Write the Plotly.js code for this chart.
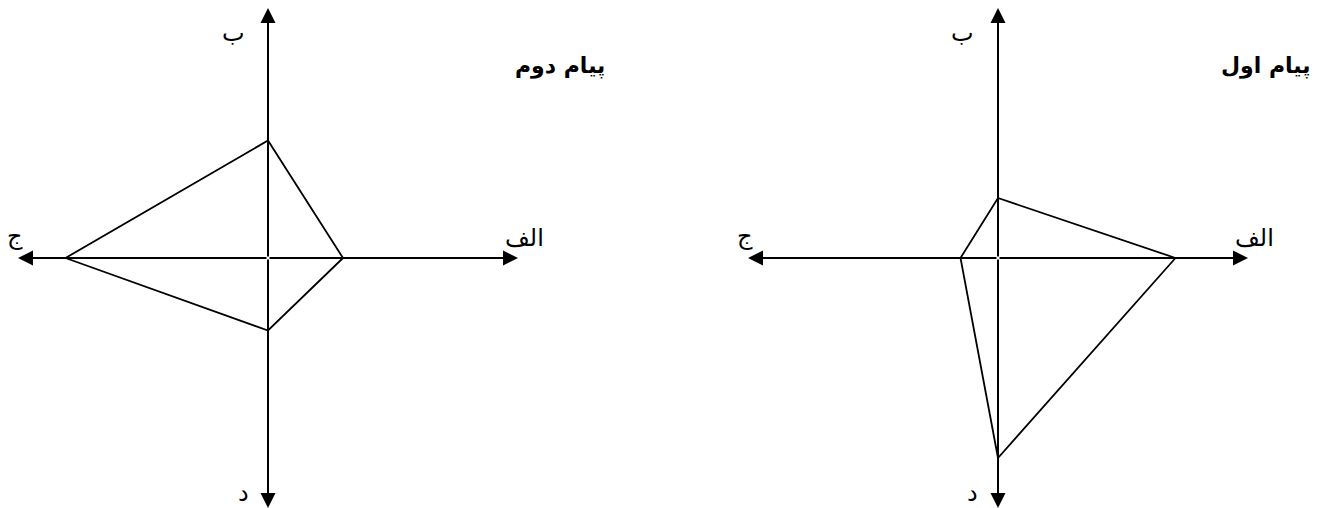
<!DOCTYPE html>
<html>
<head>
<meta charset="utf-8">
<script src="https://cdn.plot.ly/plotly-3.0.1.min.js"></script>
<style>
  html, body { margin: 0; padding: 0; background: #fff; }
  #chart { width: 1329px; height: 508px; }
</style>
</head>
<body>
<div id="chart"></div>
<script>
// axis names, in the order: right, up, left, down
var axisNames = ["الف", "ب", "ج", "د"];

// diagram titles
var titleLeft = "پیام دوم";
var titleRight = "پیام اول";

// values on each axis (الف, ب, ج, د)
var valuesLeft = [3.0, 4.7, 8.1, 2.9];
var valuesRight = [7.1, 2.4, 1.5, 8.0];

var axisLength = 10;

// turn the four values into x / y points of a closed shape
function shape(vals) {
  var dirs = [[1, 0], [0, 1], [-1, 0], [0, -1]];
  var xs = [], ys = [];
  for (var i = 0; i <= vals.length; i++) {
    var k = i % vals.length;
    xs.push(dirs[k][0] * vals[k]);
    ys.push(dirs[k][1] * vals[k]);
  }
  return {x: xs, y: ys};
}

var sL = shape(valuesLeft);
var sR = shape(valuesRight);

var trace1 = {
  x: sL.x, y: sL.y, xaxis: "x", yaxis: "y",
  type: "scatter", mode: "lines",
  line: {color: "#000", width: 1.8},
  hoverinfo: "skip"
};
var trace2 = {
  x: sR.x, y: sR.y, xaxis: "x2", yaxis: "y2",
  type: "scatter", mode: "lines",
  line: {color: "#000", width: 1.8},
  hoverinfo: "skip"
};
var data = [trace1, trace2];

// arrows and labels for both diagrams
// (labels sit inside the range, shifted out in pixels, or plotly hides them)
var annotations = [];
var ends = [[axisLength, 0], [0, axisLength], [-axisLength, 0], [0, -axisLength]];
var labelPos = [[10, 0.8], [-1.4, 9.0], [-10, 0.9], [-1.0, -9.4]];
var labelShift = [6, 0, -3, 0];
[["x", "y"], ["x2", "y2"]].forEach(function (ax) {
  ends.forEach(function (e, i) {
    annotations.push({
      xref: ax[0], yref: ax[1], axref: ax[0], ayref: ax[1],
      x: e[0], y: e[1], ax: 0, ay: 0,
      showarrow: true, arrowhead: 2, arrowsize: 1.5, arrowwidth: 2,
      arrowcolor: "#000", text: ""
    });
    annotations.push({
      xref: ax[0], yref: ax[1],
      x: labelPos[i][0], y: labelPos[i][1], xshift: labelShift[i],
      text: axisNames[i], showarrow: false,
      font: {family: "DejaVu Sans", size: 24, color: "#000"}
    });
  });
});
annotations.push({
  xref: "paper", yref: "paper", x: 607 / 1329, y: 1 - 66 / 508,
  xanchor: "right", yanchor: "middle", showarrow: false,
  text: "<b>" + titleLeft + "</b>",
  font: {family: "DejaVu Sans", size: 22, color: "#000"}
});
annotations.push({
  xref: "paper", yref: "paper", x: 1313 / 1329, y: 1 - 66 / 508,
  xanchor: "right", yanchor: "middle", showarrow: false,
  text: "<b>" + titleRight + "</b>",
  font: {family: "DejaVu Sans", size: 22, color: "#000"}
});

var hidden = {
  range: [-axisLength, axisLength], showgrid: false, zeroline: false,
  showticklabels: false, ticks: "", showline: false, fixedrange: true
};
function axis(domain, anchor) {
  return Object.assign({}, hidden, {domain: domain, anchor: anchor});
}

var layout = {
  width: 1329, height: 508,
  margin: {l: 0, r: 0, t: 0, b: 0},
  paper_bgcolor: "#fff", plot_bgcolor: "rgba(0,0,0,0)",
  showlegend: false,
  xaxis: axis([18 / 1329, 518 / 1329], "y"),
  yaxis: axis([0, 500 / 508], "x"),
  xaxis2: axis([748 / 1329, 1248 / 1329], "y2"),
  yaxis2: axis([0, 500 / 508], "x2"),
  annotations: annotations
};

Plotly.newPlot("chart", data, layout, {displayModeBar: false, staticPlot: true});
</script>
</body>
</html>
